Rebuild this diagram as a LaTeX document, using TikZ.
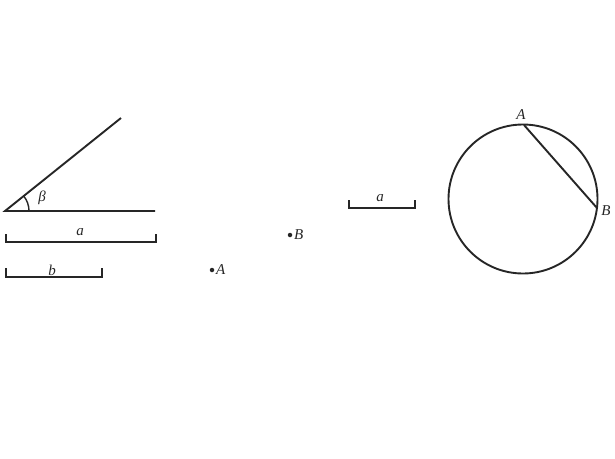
\documentclass[tikz,border=0pt]{standalone}
\usepackage{fontspec}
\setmainfont{Liberation Serif}
\usetikzlibrary{calc}
\begin{document}
\begin{tikzpicture}[x=1pt,y=-1pt,
  ln/.style={line width=1.9pt,black!85},
  lbl/.style={font=\fontsize{15}{17}\selectfont\itshape,inner sep=1pt,text=black!85},
  dotp/.style={circle,fill=black!85,inner sep=0pt,minimum size=4.5pt}]
\useasboundingbox (0,0) rectangle (615,458);
% angle
\coordinate (O) at (5,211);
\coordinate (H) at (155,211);
\coordinate (U) at (121,118);
\draw[ln] (U) -- (O) -- (H);
\draw[line width=1.4pt,black!85] ($(O)+(24,0)$) arc[start angle=0,end angle=-38.7,radius=24] ;
\node[lbl] (beta) at (42,198) {β};
% segment a
\coordinate (a1) at (6,234); \coordinate (a2) at (6,242);
\coordinate (a3) at (156,242); \coordinate (a4) at (156,234);
\draw[ln] (a1) -- (a2) -- (a3) -- (a4);
\node[lbl] (la) at (80,232) {a};
% segment b
\coordinate (b1) at (6,268); \coordinate (b2) at (6,277);
\coordinate (b3) at (102,277); \coordinate (b4) at (102,268);
\draw[ln] (b1) -- (b2) -- (b3) -- (b4);
\node[lbl] (lb) at (52,270) {b};
% points
\node[dotp] (PA) at (212,270) {};
\node[lbl,anchor=west] (lPA) at (215,270) {A};
\node[dotp] (PB) at (290,235) {};
\node[lbl,anchor=west] (lPB) at (293,235) {B};
% segment a right
\coordinate (c1) at (349,200); \coordinate (c2) at (349,208);
\coordinate (c3) at (415,208); \coordinate (c4) at (415,200);
\draw[ln] (c1) -- (c2) -- (c3) -- (c4);
\node[lbl] (lc) at (380,198) {a};
% circle
\coordinate (C) at (523,199);
\draw[ln] (C) circle[radius=74.5];
\coordinate (A) at (524,125);
\coordinate (B) at (597,208);
\draw[ln] (A) -- (B);
\node[lbl] (lA) at (521,115) {A};
\node[lbl] (lB) at (606,211) {B};
\end{tikzpicture}
\end{document}
